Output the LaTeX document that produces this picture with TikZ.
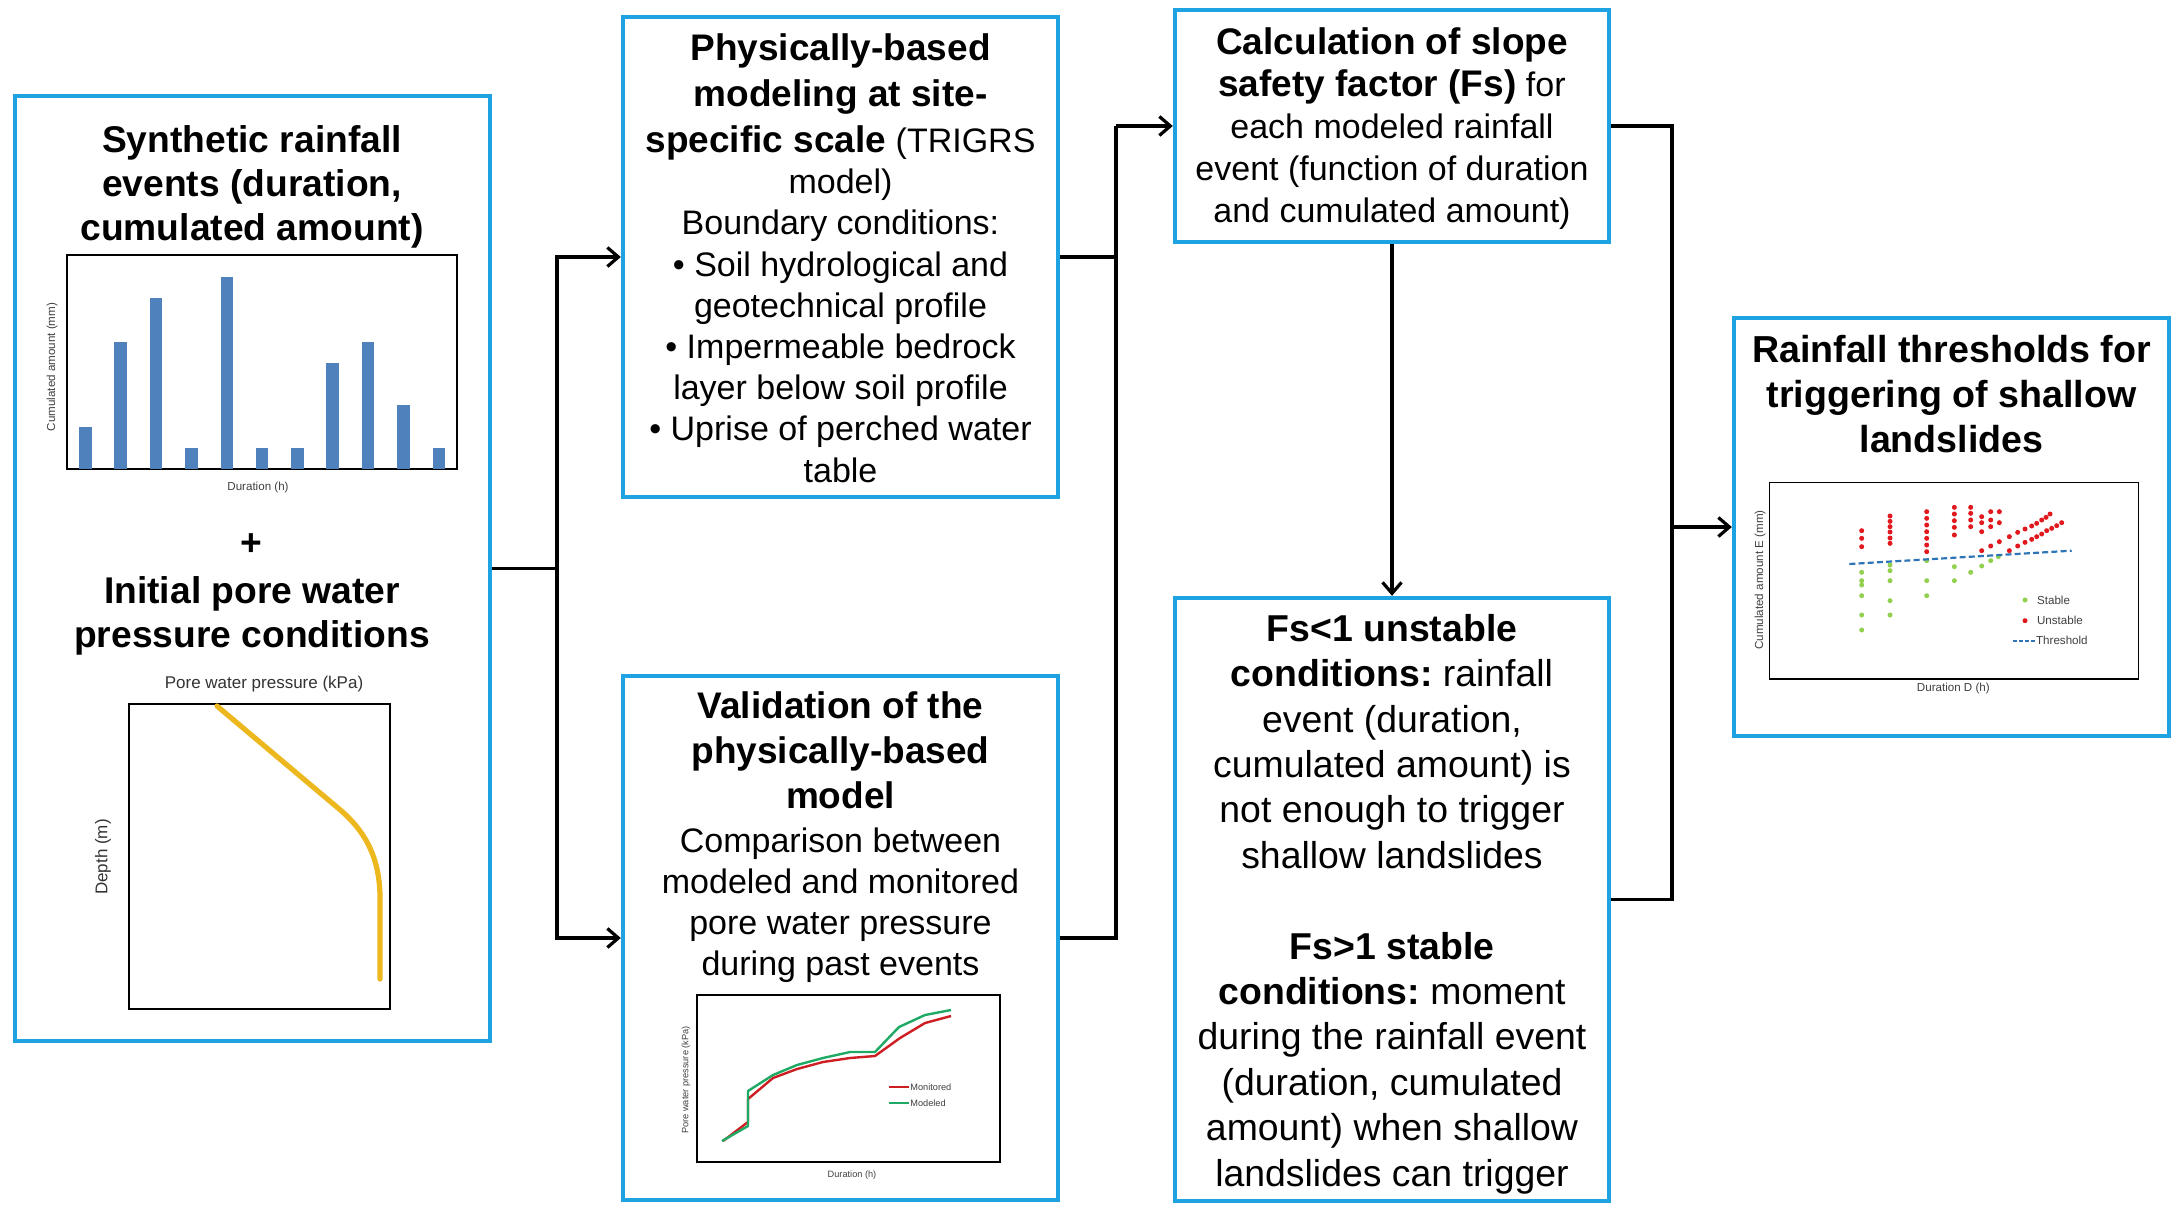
\documentclass[tikz,border=0pt]{standalone}
\usepackage{fontspec}
\setmainfont{Liberation Sans}
\usetikzlibrary{arrows.meta}
\definecolor{boxblue}{RGB}{30,162,225}
\definecolor{barblue}{RGB}{79,129,189}
\definecolor{curvegold}{RGB}{236,184,30}
\definecolor{monred}{RGB}{205,30,35}
\definecolor{modgreen}{RGB}{30,170,100}
\definecolor{dotred}{RGB}{225,25,30}
\definecolor{dotgreen}{RGB}{146,208,80}
\definecolor{thrblue}{RGB}{46,117,182}
\newcommand\bxs[1]{{\fontsize{18.5}{20.6}\selectfont\bfseries #1}}
\newcommand\bxf[1]{{\bfseries #1}}
\frenchspacing
\begin{document}
\begin{tikzpicture}[x=0.5pt,y=-0.5pt,
  frame/.style={draw=boxblue,line width=2.2pt,fill=white,inner sep=0pt},
  conn/.style={draw=black,line width=1.6pt},
  arr/.style={conn,-{Straight Barb[length=5.5pt,width=9.5pt]}},
  reg/.style={align=center,inner sep=0pt,font={\fontsize{17}{20.6}\selectfont}},
  bld/.style={align=center,inner sep=0pt,font={\fontsize{18.6}{21.9}\selectfont\bfseries}},
  chart/.style={draw=black,line width=0.8pt},
  small/.style={inner sep=0pt,text=black!75,font={\fontsize{5.8}{7}\selectfont}},
  tiny/.style={inner sep=0pt,text=black!75,font={\fontsize{4.6}{5.5}\selectfont}},
  rdot/.style={fill=dotred},
  gdot/.style={fill=dotgreen}]
\useasboundingbox (0,0) rectangle (2177,1204);

% ---------- boxes ----------
\node[frame,minimum width=237.5pt,minimum height=472.5pt] (b1) at (252.5,568.5) {};
\node[frame,minimum width=217.5pt,minimum height=240pt] (b2) at (840.5,257) {};
\node[frame,minimum width=217.5pt,minimum height=262pt] (b3) at (840.5,938) {};
\node[frame,minimum width=217pt,minimum height=116pt] (b4) at (1392,126) {};
\node[frame,minimum width=217pt,minimum height=301.5pt] (b5) at (1392,899.5) {};
\node[frame,minimum width=217.5pt,minimum height=209pt] (b6) at (1951.5,527) {};

% ---------- box 1 ----------
\node[bld] (t1a) at (252,187) {Synthetic rainfall\\events (duration,\\cumulated amount)};
\node[bld] (t1p) at (251,545) {+};
\node[bld] (t1b) at (252,616) {Initial pore water\\pressure conditions};

% bar chart
\draw[chart] (67,255) rectangle (457,469);
\foreach \cx/\ty in {85.3/426.7,120.7/341.7,156/298.3,191.3/448.3,227/276.7,262/448.3,297.3/448.3,332.7/363.3,368/341.7,403.3/405,439/448.3}
  \fill[barblue] (\cx-6.4,\ty) rectangle (\cx+6.4,469);
\node[small,rotate=90] (c1y) at (52,367) {Cumulated amount (mm)};
\node[small] (c1x) at (258,487) {Duration (h)};

% pore pressure chart
\draw[chart,line width=1pt] (129,704) rectangle (390,1009);
\draw[curvegold,line width=2.6pt,line cap=round] (217,706) -- (338,808) .. controls (368,833) and (379,860) .. (380,895) -- (380,979);
\node[inner sep=0pt,text=black!80,font={\fontsize{8.5}{10}\selectfont}] (c2x) at (264,684) {Pore water pressure (kPa)};
\node[inner sep=0pt,text=black!80,font={\fontsize{8.5}{10}\selectfont},rotate=90] (c2y) at (103,857) {Depth (m)};

% ---------- box 2 ----------
\node[reg] (t2) at (840.5,258) {\bxs{Physically-based}\\[2.4pt]
\bxs{modeling at site-}\\[2.4pt]
\bxs{specific scale} (TRIGRS\\
model)\\
Boundary conditions:\\
• Soil hydrological and\\
geotechnical profile\\
• Impermeable bedrock\\
layer below soil profile\\
• Uprise of perched water\\
table};

% ---------- box 3 ----------
\node[reg] (t3) at (840.5,837) {\bxs{Validation of the}\\[2.1pt]
\bxs{physically-based}\\[2.1pt]
\bxs{model}\\[1pt]
Comparison between\\
modeled and monitored\\
pore water pressure\\
during past events};

% validation chart
\draw[chart] (697,995) rectangle (1000,1162);
\draw[monred,line width=1.2pt,line join=round] (723,1141) -- (748,1122) -- (748,1099) -- (773,1078) -- (797,1069) -- (823,1062) -- (850,1058) -- (875,1056) -- (900,1038) -- (925,1023) -- (951,1016);
\draw[modgreen,line width=1.2pt,line join=round] (722,1141) -- (748,1126) -- (748,1091) -- (773,1075) -- (797,1065) -- (823,1058) -- (850,1052) -- (875,1052) -- (899,1027) -- (925,1015) -- (951,1010);
\coordinate (lg1a) at (889,1087);
\coordinate (lg1b) at (909,1087);
\coordinate (lg2a) at (889,1103);
\coordinate (lg2b) at (909,1103);
\draw[monred,line width=0.9pt] (lg1a) -- (lg1b);
\draw[modgreen,line width=0.9pt] (lg2a) -- (lg2b);
\node[tiny,anchor=west] (l1) at (910,1087) {Monitored};
\node[tiny,anchor=west] (l2) at (910,1103) {Modeled};
\node[tiny] (c3x) at (852,1175) {Duration (h)};
\node[tiny,rotate=90] (c3y) at (686,1080) {Pore water pressure (kPa)};

% ---------- box 4 ----------
\node[reg,font={\fontsize{17}{21}\selectfont}] (t4) at (1392,129) {\bxs{Calculation of slope}\\
\bxs{safety factor (Fs)} for\\
each modeled rainfall\\
event (function of duration\\
and cumulated amount)};

% ---------- box 5 ----------
\node[reg,font={\fontsize{18.7}{22.7}\selectfont}] (t5) at (1392,904) {\bxf{Fs<1 unstable}\\
\bxf{conditions:} rainfall\\
event (duration,\\
cumulated amount) is\\
not enough to trigger\\
shallow landslides\\[22.7pt]
\bxf{Fs>1 stable}\\
\bxf{conditions:} moment\\
during the rainfall event\\
(duration, cumulated\\
amount) when shallow\\
landslides can trigger};

% ---------- box 6 ----------
\node[bld,font={\fontsize{18.8}{22.5}\selectfont\bfseries}] (t6) at (1951.5,394) {Rainfall thresholds for\\triggering of shallow\\landslides};

\begin{scope}[shift={(860pt,-155pt)},x=0.16667pt,y=-0.16667pt]
\draw[chart] (148,517) rectangle (1255,1107);
\foreach \xx/\yy in {425/662,425/685,425/710,
  510/618,510/634,510/650,510/666,510/684,510/700,
  620/605,620/625,620/645,620/665,620/685,620/705,620/725,
  703/592,703/612,703/632,703/652,703/675,
  752/592,752/610,752/630,752/650,
  785/620,785/638,785/665,
  812/605,812/630,812/650,
  838/605,838/638,
  785/722,812/708,838/695,868/680,893/667,915/657,935/648,950/640,965/630,978/622,990/612,
  868/722,893/708,915/697,935/688,950/680,965/672,980/662,995/655,1010/647,1025/638}
  \fill[rdot] (\xx,\yy) circle (1.25pt);
\foreach \xx/\yy in {425/787,425/812,425/825,425/857,425/915,425/960,
  510/765,510/782,510/812,510/872,510/915,
  620/752,620/812,620/857,
  703/770,703/812,752/787,785/768,812/752,835/740}
  \fill[gdot] (\xx,\yy) circle (1.25pt);
\coordinate (th1) at (388,762);
\coordinate (th2) at (1055,722);
\draw[thrblue,line width=1.1pt,dash pattern=on 3pt off 1.6pt] (th1) -- (th2);
\fill[gdot] (915,870) circle (1.25pt);
\fill[rdot] (915,932) circle (1.25pt);
\coordinate (lt1) at (880,992);
\coordinate (lt2) at (945,992);
\draw[thrblue,line width=0.9pt,dash pattern=on 2pt off 1pt] (lt1) -- (lt2);
\node[small,anchor=west] (s1) at (950,870) {Stable};
\node[small,anchor=west] (s2) at (950,932) {Unstable};
\node[small,anchor=west] (s3) at (947,992) {Threshold};
\node[small,rotate=90] (c4y) at (120,810) {Cumulated amount E (mm)};
\node[small] (c4x) at (700,1135) {Duration D (h)};
\end{scope}

% ---------- connectors ----------
\coordinate (j1) at (557,568.5);
\coordinate (j2) at (1116,126);
\coordinate (j3) at (1672,527);
\draw[conn] (b1.east) -- (j1);
\draw[arr] (j1) |- (b2.west);
\draw[arr] (j1) |- (b3.west);
\draw[conn] (b2.east) -| (j2);
\draw[conn] (b3.east) -| (j2);
\draw[arr] (j2) -- (b4.west);
\draw[arr] (b4.south) -- (b5.north);
\draw[conn] (b4.east) -| (j3);
\draw[conn] (b5.east) -| (j3);
\draw[arr] (j3) -- (b6.west);
\end{tikzpicture}
\end{document}
